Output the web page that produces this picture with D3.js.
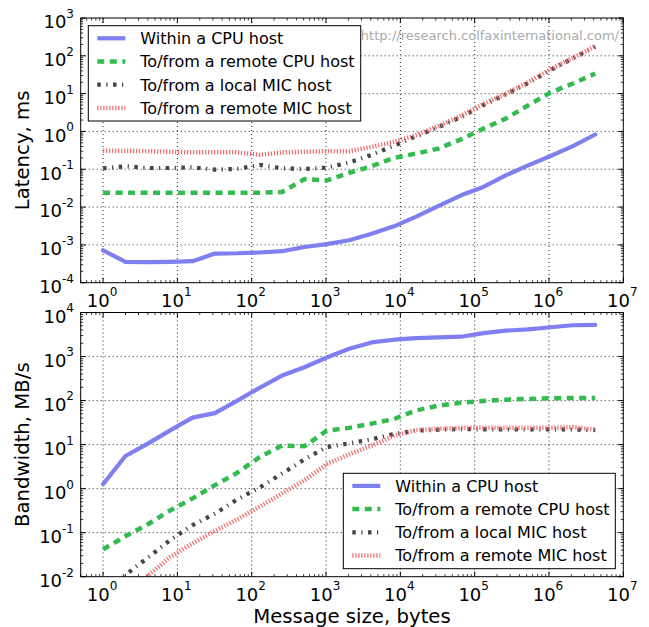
<!DOCTYPE html>
<html><head><meta charset="utf-8">
<script src="https://cdn.jsdelivr.net/npm/d3@7"></script>
<style>
body{margin:0;background:#fff}
svg{display:block}
text{font-family:"DejaVu Sans",sans-serif;fill:#000}
</style>
</head><body>
<svg id="c" width="649" height="627"></svg>
<script>
// ---------------- data ----------------
const messageSizes = [1, 2, 4, 8, 16, 32, 64, 128, 256, 512, 1024, 2048, 4096, 8192,
  16384, 32768, 65536, 131072, 262144, 524288, 1048576, 2097152, 4194304];
const seriesNames = ["Within a CPU host", "To/from a remote CPU host",
  "To/from a local MIC host", "To/from a remote MIC host"];

// latency, ms
const latencyWithinCPU = [7.2e-4, 3.55e-4, 3.5e-4, 3.55e-4, 3.7e-4, 5.9e-4, 6.0e-4, 6.3e-4, 6.8e-4, 8.8e-4,
  1.05e-3, 1.33e-3, 1.96e-3, 3.1e-3, 5.6e-3, 0.0107, 0.0205, 0.034, 0.069, 0.127, 0.225, 0.41, 0.83];
const latencyRemoteCPU = [0.024, 0.024, 0.024, 0.024, 0.024, 0.024, 0.024, 0.024, 0.025, 0.055,
  0.051, 0.081, 0.12, 0.2, 0.26, 0.355, 0.62, 1.19, 2.18, 4.9, 10.7, 18.5, 34];
const latencyLocalMIC = [0.106, 0.12, 0.108, 0.108, 0.113, 0.098, 0.102, 0.13, 0.106, 0.102,
  0.11, 0.15, 0.24, 0.42, 0.75, 1.3, 2.4, 5.0, 9.5, 19, 42, 85, 175];
const latencyRemoteMIC = [0.31, 0.31, 0.3, 0.29, 0.28, 0.28, 0.28, 0.24, 0.28, 0.29,
  0.3, 0.3, 0.39, 0.53, 0.8, 1.4, 2.6, 5.3, 10, 20, 44, 88, 180];

// bandwidth, MB/s
const bandwidthWithinCPU = [1.26, 5.5, 10.5, 21, 41, 52, 100, 195, 370, 570,
  950, 1500, 2090, 2410, 2630, 2725, 2820, 3400, 3870, 4150, 4620, 5130, 5220];
const bandwidthRemoteCPU = [0.042, 0.083, 0.155, 0.32, 0.6, 1.2, 2.3, 5.2, 9.5, 9.2,
  20.7, 24, 30, 38, 60, 77, 89, 98, 105, 109, 113, 115, 115];
const bandwidthLocalMIC = [0.005, 0.011, 0.027, 0.068, 0.148, 0.27, 0.57, 1.06, 2.2, 4.6,
  8.8, 10.7, 13.2, 17.4, 20.7, 21.8, 22.5, 22.2, 22.0, 22.0, 22.2, 22.0, 21.4];
const bandwidthRemoteMIC = [0.0025, 0.005, 0.0105, 0.028, 0.057, 0.11, 0.2, 0.39, 0.78, 1.55,
  3.6, 6, 9.5, 15.7, 21.4, 23, 24, 24, 24, 24, 24, 25, 22];

const xTickExponents = [0, 1, 2, 3, 4, 5, 6, 7];
const latencyTickExponents = [-4, -3, -2, -1, 0, 1, 2, 3];
const bandwidthTickExponents = [-2, -1, 0, 1, 2, 3, 4];
const latencyLabel = "Latency, ms";
const bandwidthLabel = "Bandwidth, MB/s";
const xLabel = "Message size, bytes";
const watermarkText = "http://research.colfaxinternational.com/";

// ---------------- styles ----------------
const lineStyles = [
  {color: "#7f7fef", dash: null, width: 4.2},
  {color: "#33bb4f", dash: "7,5.5", width: 4.5},
  {color: "#454545", dash: "3.5,5.5,1.2,5.5", width: 4.2},
  {color: "#f06a6a", dash: "1.2,1.8", width: 4.5}
];

const svg = d3.select("#c");
const L = 80.7, R = 623.3;
const x = d3.scaleLog().domain([0.5, 1e7]).range([L, R]);

function sup(sel, exp, mainSize, supSize, raise) {
  sel.append("tspan").attr("font-size", mainSize).text("10");
  sel.append("tspan").attr("font-size", supSize).attr("dy", -raise).text(exp);
}

function minorValues(domain) {
  const out = [];
  const lo = Math.floor(Math.log10(domain[0])), hi = Math.ceil(Math.log10(domain[1]));
  for (let d = lo; d < hi; d++) {
    for (let m = 2; m <= 9; m++) {
      const v = m * Math.pow(10, d);
      if (v >= domain[0] * 0.999 && v <= domain[1] * 1.001) out.push(v);
    }
  }
  return out;
}

function panel(o) {
  const g = svg.append("g");
  const y = d3.scaleLog().domain(o.yDomain).range([o.bottom, o.top]);
  const clipId = "clip" + o.id;
  svg.append("clipPath").attr("id", clipId).append("rect")
    .attr("x", L).attr("y", o.top).attr("width", R - L).attr("height", o.bottom - o.top);

  const xMajors = xTickExponents.map(e => Math.pow(10, e));
  const yMajors = o.yTickExps.map(e => Math.pow(10, e));

  // grid
  const grid = g.append("g").attr("stroke", "#000").attr("stroke-width", 1)
    .attr("stroke-dasharray", "1,3").attr("opacity", 0.85);
  xMajors.filter(v => x(v) < R - 1).forEach(v => {
    grid.append("line").attr("x1", x(v)).attr("x2", x(v)).attr("y1", o.top).attr("y2", o.bottom);
  });
  yMajors.filter(v => y(v) > o.top + 1 && y(v) < o.bottom - 1).forEach(v => {
    grid.append("line").attr("x1", L).attr("x2", R).attr("y1", y(v)).attr("y2", y(v));
  });

  // lines
  const lg = g.append("g").attr("clip-path", `url(#${clipId})`);
  const line = d3.line().x(d => x(d[0])).y(d => y(d[1]));
  o.series.forEach((vals, i) => {
    const st = lineStyles[i];
    lg.append("path")
      .attr("d", line(messageSizes.map((s, j) => [s, vals[j]])))
      .attr("fill", "none").attr("stroke", st.color).attr("stroke-width", st.width)
      .attr("stroke-dasharray", st.dash).attr("stroke-linejoin", "round")
      .attr("stroke-linecap", st.dash ? "butt" : "round");
  });

  // frame
  g.append("rect").attr("x", L).attr("y", o.top).attr("width", R - L).attr("height", o.bottom - o.top)
    .attr("fill", "none").attr("stroke", "#000").attr("stroke-width", 1);

  // ticks (inside, all sides)
  const tk = g.append("g").attr("stroke", "#000");
  const xMinor = minorValues(x.domain());
  const yMinor = minorValues(y.domain());
  xMajors.forEach(v => {
    tk.append("line").attr("x1", x(v)).attr("x2", x(v)).attr("y1", o.bottom).attr("y2", o.bottom - 5);
    tk.append("line").attr("x1", x(v)).attr("x2", x(v)).attr("y1", o.top).attr("y2", o.top + 5);
  });
  xMinor.forEach(v => {
    tk.append("line").attr("x1", x(v)).attr("x2", x(v)).attr("y1", o.bottom).attr("y2", o.bottom - 2.5).attr("stroke-width", 0.8);
    tk.append("line").attr("x1", x(v)).attr("x2", x(v)).attr("y1", o.top).attr("y2", o.top + 2.5).attr("stroke-width", 0.8);
  });
  yMajors.forEach(v => {
    tk.append("line").attr("x1", L).attr("x2", L + 5).attr("y1", y(v)).attr("y2", y(v));
    tk.append("line").attr("x1", R).attr("x2", R - 5).attr("y1", y(v)).attr("y2", y(v));
  });
  yMinor.forEach(v => {
    tk.append("line").attr("x1", L).attr("x2", L + 2.5).attr("y1", y(v)).attr("y2", y(v)).attr("stroke-width", 0.8);
    tk.append("line").attr("x1", R).attr("x2", R - 2.5).attr("y1", y(v)).attr("y2", y(v)).attr("stroke-width", 0.8);
  });

  // tick labels
  xTickExponents.forEach(e => {
    const t = g.append("text").attr("x", x(Math.pow(10, e)) - 1).attr("y", o.bottom + 24)
      .attr("text-anchor", "middle");
    sup(t, e, 18, 12, 10.5);
  });
  o.yTickExps.forEach(e => {
    const t = g.append("text").attr("x", 74).attr("y", y(Math.pow(10, e)) + 10.4)
      .attr("text-anchor", "end");
    sup(t, e, 18, 12, 10.5);
  });

  // axis label
  g.append("text").attr("transform", `translate(29,${(o.top + o.bottom) / 2}) rotate(-90)`)
    .attr("text-anchor", "middle").attr("font-size", 19.7).text(o.yLabel);

  return {g, y};
}

function legend(bx, by, bw, bh) {
  const g = svg.append("g");
  g.append("rect").attr("x", bx).attr("y", by).attr("width", bw).attr("height", bh)
    .attr("fill", "#fff").attr("stroke", "#000").attr("stroke-width", 1);
  seriesNames.forEach((name, i) => {
    const cy = by + 12.6 + i * 23.2;
    const st = lineStyles[i];
    g.append("line").attr("x1", bx + 9).attr("x2", bx + 37).attr("y1", cy).attr("y2", cy)
      .attr("stroke", st.color).attr("stroke-width", st.width).attr("stroke-dasharray", st.dash);
    g.append("text").attr("x", bx + 52).attr("y", cy + 5.8).attr("font-size", 16).text(name);
  });
}

const latencyPanel = panel({id: "a", top: 18, bottom: 282.7, yDomain: [1e-4, 1e3], yTickExps: latencyTickExponents,
  series: [latencyWithinCPU, latencyRemoteCPU, latencyLocalMIC, latencyRemoteMIC], yLabel: latencyLabel});

svg.append("text").attr("x", 619).attr("y", 39.5).attr("text-anchor", "end")
  .attr("font-size", 13).style("fill", "#aaaaaa").text(watermarkText);
legend(88.3, 25.7, 272.4, 95.3);

const bandwidthPanel = panel({id: "b", top: 312.5, bottom: 576.7, yDomain: [1e-2, 1e4], yTickExps: bandwidthTickExponents,
  series: [bandwidthWithinCPU, bandwidthRemoteCPU, bandwidthLocalMIC, bandwidthRemoteMIC], yLabel: bandwidthLabel});
legend(343.3, 473.3, 272, 95.4);

svg.append("text").attr("x", (L + R) / 2).attr("y", 623).attr("text-anchor", "middle")
  .attr("font-size", 19.7).text(xLabel);
</script>
</body></html>
